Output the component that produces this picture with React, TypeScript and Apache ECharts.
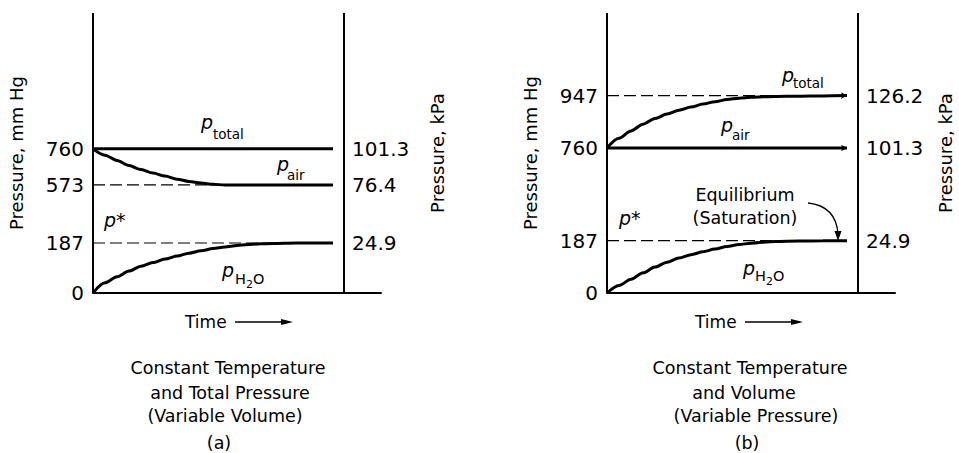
import React, { useEffect, useRef } from 'react';
import * as echarts from 'echarts';

// ---------- data (mm Hg vs. dimensionless time) ----------
const timeSteps = [0, 0.5, 1, 1.5, 2, 2.5, 3, 3.5, 4, 4.5, 5, 5.5, 6, 7, 8, 9, 10];
const timeEnds = [0, 10];
const frameTimes = [0, 10.458];

// Panel (a): constant temperature and total pressure
const waterA = [0, 38, 61, 82, 100, 114, 127, 138, 149, 158, 166, 172, 178, 184, 186, 187, 187];
const airA = [760, 730, 700, 672, 650, 631, 614, 597, 586, 580, 575.5, 573, 573, 573, 573, 573, 573];
const totalA = [760, 760];
const levelsA = [573, 187];

// Panel (b): constant temperature and volume
const waterB = [0, 27, 49, 72, 93, 110, 125, 137, 147, 157, 166, 173, 178, 184, 185.5, 186.5, 187];
const totalB = [760, 795, 821, 845, 865, 881, 895, 906, 917, 925, 933, 938, 941, 944, 945, 946, 947];
const airB = [760, 760];
const levelsB = [947, 187];

// tick labels
const mmTicksA = [0, 187, 573, 760];
const kpaTicksA = [187, 573, 760];
const kpaLabelsA = ['24.9', '76.4', '101.3'];
const mmTicksB = [0, 187, 760, 947];
const kpaTicksB = [187, 760, 947];
const kpaLabelsB = ['24.9', '101.3', '126.2'];

const FONT = 'DejaVu Sans';
const INK = '#000';

const pairs = (xs: number[], ys: number[]) => xs.map((x, i) => [x, ys[i]]);

function yAxes(grid: number, max: number, breaks: any[], mmTicks: number[], kTicks: number[], kLabels: string[], rightOffset: number, leftGap: number, rightGap: number) {
  const common = {
    gridIndex: grid,
    type: 'value',
    min: 0,
    max,
    breaks,
    breakArea: { show: false },
    splitLine: { show: false },
    axisTick: { show: false },
    axisLine: { show: false },
  };
  return [
    {
      ...common,
      position: 'left',
      name: 'Pressure, mm Hg',
      nameLocation: 'middle',
      nameGap: leftGap,
      nameTextStyle: { fontFamily: FONT, fontSize: 18, color: INK },
      axisLabel: { customValues: mmTicks, fontFamily: FONT, fontSize: 20, color: INK, margin: 9, formatter: (v: number) => String(Math.round(v)) },
    },
    {
      ...common,
      position: 'right',
      offset: rightOffset,
      name: 'Pressure, kPa',
      nameLocation: 'middle',
      nameGap: rightGap,
      nameTextStyle: { fontFamily: FONT, fontSize: 18, color: INK },
      axisLabel: {
        customValues: kTicks,
        fontFamily: FONT,
        fontSize: 20,
        color: INK,
        margin: 8,
        formatter: (v: number) => kLabels[kTicks.indexOf(Math.round(v))] ?? '',
      },
    },
  ];
}

function curve(x: number, y: number, data: any[], width = 3) {
  return {
    type: 'line',
    xAxisIndex: x,
    yAxisIndex: y,
    data,
    smooth: 0.3,
    smoothMonotone: 'x',
    symbol: 'none',
    lineStyle: { color: INK, width },
    z: 3,
  };
}

function withArrow(data: number[][]) {
  return data.map((d, i) =>
    i === data.length - 1 ? { value: d, symbol: 'arrow', symbolSize: [5, 6], symbolRotate: -90, itemStyle: { color: INK } } : d
  );
}

function dashed(x: number, y: number, level: number) {
  return {
    type: 'line',
    xAxisIndex: x,
    yAxisIndex: y,
    data: pairs(timeEnds, [level, level]),
    symbol: 'none',
    lineStyle: { color: INK, width: 1.2, type: [12, 5] },
    z: 2,
  };
}

function frame(x: number, y: number) {
  return {
    type: 'line',
    xAxisIndex: x,
    yAxisIndex: y,
    data: [],
    markLine: {
      silent: true,
      symbol: 'none',
      label: { show: false },
      lineStyle: { color: INK, width: 2, type: 'solid' },
      data: frameTimes.map((t) => ({ xAxis: t })),
    },
  };
}

function txt(text: string, x: number, y: number, size: number, opts: any = {}) {
  return {
    type: 'text',
    x,
    y,
    silent: true,
    style: {
      text,
      fontFamily: FONT,
      fontSize: size,
      fontStyle: opts.italic ? 'italic' : 'normal',
      fill: INK,
      align: opts.align || 'left',
      textAlign: opts.align || 'left',
      verticalAlign: 'middle',
      textVerticalAlign: 'middle',
    },
  };
}

function label(x: number, y: number, sub: string, sx: number, sy: number) {
  return [txt('p', x, y, 19, { italic: true }), txt(sub, sx, sy, 13.5)];
}

function h2o(px: number, py: number, hx: number, hy: number) {
  return [
    txt('p', px, py, 19, { italic: true }),
    txt('H', hx, hy, 14.5),
    txt('2', hx + 11, hy + 5, 11),
    txt('O', hx + 18, hy, 14.5),
  ];
}

function timeArrow(x: number, y: number) {
  return [
    txt('Time', x, y, 17),
    { type: 'line', silent: true, shape: { x1: x + 50, y1: y, x2: x + 102, y2: y }, style: { stroke: INK, lineWidth: 1.3 } },
    { type: 'polygon', silent: true, shape: { points: [[x + 108, y], [x + 96, y - 3], [x + 96, y + 3]] }, style: { fill: INK } },
  ];
}

function caption(cx: number, lines: string[], offsets: number[]) {
  const ys = [368, 393, 416, 443];
  return lines.map((l, i) => txt(l, cx + offsets[i], ys[i], 17.5, { align: 'center' }));
}

export default function App() {
  const ref = useRef<HTMLDivElement>(null);
  useEffect(() => {
    if (!ref.current) return;
    const chart = echarts.init(ref.current, null, { renderer: 'svg' });
    const option: any = {
      animation: false,
      backgroundColor: '#fff',
      grid: [
        { left: 93, top: 13, width: 288, height: 280 },
        { left: 607, top: 13, width: 288, height: 280 },
      ],
      xAxis: [0, 1].map((g) => ({
        gridIndex: g,
        type: 'value',
        min: 0,
        max: 12,
        axisLine: { show: true, onZero: false, lineStyle: { color: INK, width: 2 } },
        axisTick: { show: false },
        axisLabel: { show: false },
        splitLine: { show: false },
      })),
      yAxis: [
        ...yAxes(0, 1268, [
          { start: 200, end: 560, gap: 191 },
          { start: 590, end: 750, gap: 108 },
        ], mmTicksA, kpaTicksA, kpaLabelsA, -37, 68, 84),
        ...yAxes(1, 1242, [
          { start: 200, end: 740, gap: 297.9 },
        ], mmTicksB, kpaTicksB, kpaLabelsB, -37, 68, 78),
      ],
      series: [
        frame(0, 0),
        ...levelsA.map((l) => dashed(0, 0, l)),
        curve(0, 0, pairs(timeEnds, totalA)),
        curve(0, 0, pairs(timeSteps, airA)),
        curve(0, 0, pairs(timeSteps, waterA)),
        frame(1, 2),
        ...levelsB.map((l) => dashed(1, 2, l)),
        curve(1, 2, withArrow(pairs(timeSteps, totalB))),
        curve(1, 2, withArrow(pairs(timeEnds, airB))),
        curve(1, 2, pairs(timeSteps, waterB)),
      ],
      graphic: [
        // panel (a) labels
        ...label(201, 122, 'total', 213, 134),
        ...label(277, 164, 'air', 287, 175),
        txt('p*', 104, 220, 19, { italic: true }),
        ...h2o(222, 270, 235, 279),
        // panel (b) labels
        ...label(782, 75, 'total', 793, 83),
        ...label(721, 125, 'air', 732, 135),
        txt('p*', 619, 218, 19, { italic: true }),
        ...h2o(743, 268, 755, 276),
        txt('Equilibrium', 745, 195, 17.5, { align: 'center' }),
        txt('(Saturation)', 745, 218, 17.5, { align: 'center' }),
        {
          type: 'bezierCurve',
          silent: true,
          shape: { x1: 808, y1: 203, cpx1: 836, cpy1: 206, x2: 838, y2: 234 },
          style: { stroke: INK, lineWidth: 1.3, fill: 'none' },
        },
        { type: 'polygon', silent: true, shape: { points: [[838, 241], [834.5, 231], [841.5, 231]] }, style: { fill: INK } },
        // bottom
        ...timeArrow(185, 322),
        ...timeArrow(695, 322),
        ...caption(228, ['Constant Temperature', 'and Total Pressure', '(Variable Volume)', '(a)'], [0, 2, -3, -9]),
        ...caption(750, ['Constant Temperature', 'and Volume', '(Variable Pressure)', '(b)'], [0, -6, 6, -3]),
      ],
    };
    chart.setOption(option);
    return () => chart.dispose();
  }, []);
  return <div ref={ref} style={{ position: 'absolute', left: 0, top: 0, width: 959, height: 453 }} />;
}
